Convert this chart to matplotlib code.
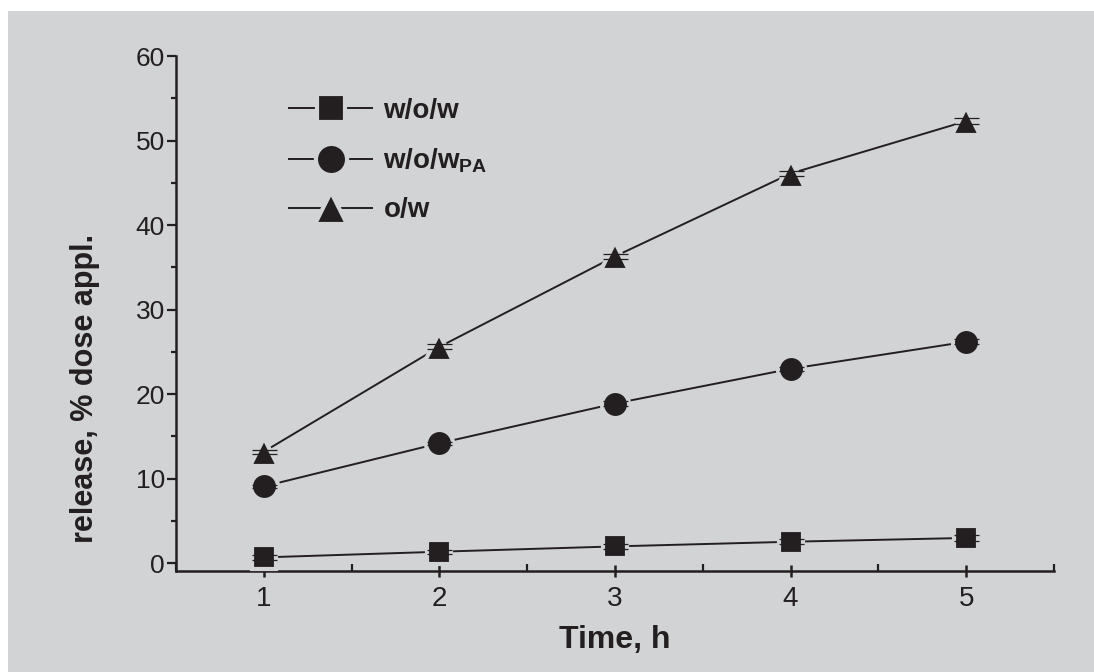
import matplotlib
matplotlib.use("Agg")
import matplotlib.pyplot as plt
from matplotlib.ticker import MultipleLocator
from matplotlib.patches import Rectangle

# data
time_h = [1, 2, 3, 4, 5]
wow = [0.7, 1.37, 2.0, 2.55, 3.0]
wow_err = [0.25, 0.25, 0.3, 0.3, 0.35]
wowpa = [9.1, 14.2, 18.9, 23.0, 26.2]
wowpa_err = [0.2, 0.2, 0.25, 0.25, 0.3]
ow = [13.2, 25.6, 36.3, 46.1, 52.3]
ow_err = [0.25, 0.3, 0.3, 0.35, 0.35]
labels = ["w/o/w", r"w/o/w$_{\mathrm{PA}}$", "o/w"]

BG = "#d1d3d4"
INK = "#231f20"

plt.rcParams["font.family"] = ["Liberation Sans", "DejaVu Sans"]
plt.rcParams["mathtext.fontset"] = "custom"
plt.rcParams["mathtext.rm"] = "Liberation Sans:bold"
plt.rcParams["mathtext.bf"] = "Liberation Sans:bold"

fig = plt.figure(figsize=(10.94, 6.72), dpi=100, facecolor="white")
fig.patches.append(Rectangle((8 / 1094, 0), 1, 1 - 11 / 672, transform=fig.transFigure,
                             facecolor=BG, edgecolor="none", zorder=-10))
ax = fig.add_axes([176 / 1094, 1 - 571 / 672, (1054 - 176) / 1094, (571 - 56) / 672])
ax.set_facecolor("none")

series = [(wow, wow_err, "s", 17.5), (wowpa, wowpa_err, "o", 19.5), (ow, ow_err, "^", 20.5)]
handles = []
for (vals, errs, mk, ms), lab in zip(series, labels):
    ax.errorbar(time_h, vals, yerr=errs, fmt="none", ecolor=INK, elinewidth=0.9,
                capsize=9, capthick=0.9, zorder=4)
    ln, = ax.plot(time_h, vals, color=INK, lw=1.4, marker=mk, ms=ms,
                  mfc=INK, mec=BG, mew=3, label=lab, zorder=3)
    handles.append(ln)

ax.set_xlim(0.5, 5.5)
ax.set_ylim(-0.91, 60)

for side in ["top", "right"]:
    ax.spines[side].set_visible(False)
for side in ["left", "bottom"]:
    ax.spines[side].set_linewidth(1.8)
    ax.spines[side].set_color(INK)

ax.xaxis.set_major_locator(MultipleLocator(1))
ax.xaxis.set_minor_locator(MultipleLocator(0.5))
ax.yaxis.set_major_locator(MultipleLocator(10))
ax.yaxis.set_minor_locator(MultipleLocator(5))

ax.tick_params(axis="x", which="major", direction="inout", length=9, width=1.8,
               color=INK, labelsize=20, labelcolor=INK, pad=6)
ax.tick_params(axis="x", which="minor", direction="in", length=5, width=1.6, color=INK)
ax.tick_params(axis="y", which="major", direction="out", length=6.5, width=1.6,
               color=INK, labelsize=19, labelcolor=INK, pad=1.5)
ax.tick_params(axis="y", which="minor", direction="out", length=3.6, width=1.6, color=INK)

ax.set_xlabel("Time, h", fontsize=23, fontweight="bold", color=INK, labelpad=10)
ax.set_ylabel("release, % dose appl.", fontsize=22, fontweight="bold", color=INK)
ax.yaxis.set_label_coords((100 - 176) / 878, (571 - 388) / 515)

leg = ax.legend(handles=handles, loc="upper left", bbox_to_anchor=(289 / 1094, 1 - 98 / 672),
                bbox_transform=fig.transFigure, frameon=False, borderpad=0, borderaxespad=0,
                handlelength=3.0, handletextpad=0.4, labelspacing=0.8, numpoints=1,
                markerscale=1.15, prop={"size": 20, "weight": "bold"})
for t in leg.get_texts():
    t.set_color(INK)

fig.savefig("out.png", dpi=100, facecolor=fig.get_facecolor())
